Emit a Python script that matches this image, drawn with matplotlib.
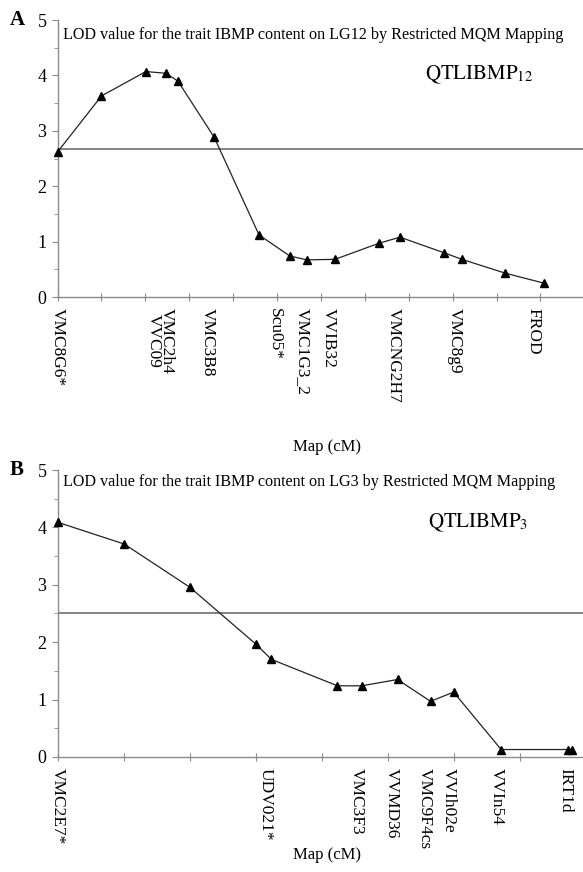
import matplotlib
matplotlib.use('Agg')
import matplotlib.pyplot as plt
from matplotlib.ticker import MultipleLocator

plt.rcParams['font.family'] = ['Liberation Serif', 'DejaVu Serif']
plt.rcParams['mathtext.fontset'] = 'stix'

# Panel A - LG12
pos_a = [0, 10.0, 20.1, 24.6, 27.4, 35.7, 45.9, 52.9, 56.8, 63.2, 73.2, 78.0, 88.0, 92.1, 102.0, 110.8]
lod_a = [2.62, 3.63, 4.07, 4.04, 3.90, 2.88, 1.12, 0.74, 0.67, 0.68, 0.97, 1.08, 0.80, 0.68, 0.43, 0.25]
thr_a = 2.68
lab_pos_a = [0, 23.5, 34.3, 49.5, 55.9, 61.8, 76.7, 90.6, 108.4]
lab_a = ['VMC8G6*', 'VMC2h4\nVVC09', 'VMC3B8', 'Scu05*', 'VMC1G3_2', 'VVIB32',
         'VMCNG2H7', 'VMC8g9', 'FROD']

# Panel B - LG3
pos_b = [0, 10.1, 20.0, 30.0, 32.4, 42.4, 46.1, 51.5, 56.5, 60.0, 67.2, 77.3, 77.9]
lod_b = [4.09, 3.71, 2.96, 1.97, 1.70, 1.24, 1.24, 1.35, 0.97, 1.13, 0.13, 0.13, 0.13]
thr_b = 2.50
lab_pos_b = [0, 31.5, 45.3, 50.7, 55.7, 59.2, 66.6, 76.9]
lab_b = ['VMC2E7*', 'UDV021*', 'VMC3F3', 'VVMD36', 'VMC9F4cs', 'VVIh02e', 'VVIn54', 'IRT1d']

axis_col = '#8a8a8a'


def panel(ax, pos, lod, thr, lab_pos, labs, xmax):
    ax.plot(pos, lod, color='#222222', lw=0.9, marker='^', ms=5.5,
            mfc='black', mec='black', clip_on=False, zorder=3)
    ax.axhline(thr, color='#6e6e6e', lw=1.2)
    ax.set_xlim(0, xmax)
    ax.set_ylim(0, 5)
    for s in ['top', 'right']:
        ax.spines[s].set_visible(False)
    for s in ['left', 'bottom']:
        ax.spines[s].set_color(axis_col)
        ax.spines[s].set_linewidth(1.0)
    ax.xaxis.set_major_locator(MultipleLocator(10))
    ax.set_xticklabels([])
    ax.yaxis.set_major_locator(MultipleLocator(1))
    ax.yaxis.set_minor_locator(MultipleLocator(0.5))
    ax.tick_params(axis='x', direction='inout', length=6, color=axis_col)
    ax.tick_params(axis='y', which='major', length=4, color=axis_col,
                   labelsize=13, pad=4)
    ax.tick_params(axis='y', which='minor', length=3, color=axis_col)
    for x, t in zip(lab_pos, labs):
        ax.annotate(t, xy=(x, 0), xycoords=('data', 'axes fraction'),
                    xytext=(0, -8), textcoords='offset points',
                    rotation=-90, ha='center', va='top', fontsize=12.5,
                    linespacing=0.75, annotation_clip=False)


fig = plt.figure(figsize=(5.83, 8.72), dpi=100)
ax_a = fig.add_axes([0.0988, 0.6594, 0.9012, 0.3176])
ax_b = fig.add_axes([0.0988, 0.1319, 0.9012, 0.3291])

panel(ax_a, pos_a, lod_a, thr_a, lab_pos_a, lab_a, 119.7)
panel(ax_b, pos_b, lod_b, thr_b, lab_pos_b, lab_b, 79.6)

fig.text(0.017, 0.977, 'A', fontsize=15, fontweight='bold', va='center')
fig.text(0.017, 0.461, 'B', fontsize=15, fontweight='bold', va='center')
fig.text(0.108, 0.960, 'LOD value for the trait IBMP content on LG12 by Restricted MQM Mapping',
         fontsize=11.6, va='center')
fig.text(0.108, 0.447, 'LOD value for the trait IBMP content on LG3 by Restricted MQM Mapping',
         fontsize=11.6, va='center')
fig.text(0.729, 0.914, r'$\mathrm{QTLIBMP}_{12}$', fontsize=15, va='center')
fig.text(0.734, 0.401, r'$\mathrm{QTLIBMP}_{3}$', fontsize=15, va='center')
fig.text(0.561, 0.487, 'Map (cM)', fontsize=12, ha='center', va='center')
fig.text(0.561, 0.0195, 'Map (cM)', fontsize=12, ha='center', va='center')

fig.savefig('out.png', dpi=100)
